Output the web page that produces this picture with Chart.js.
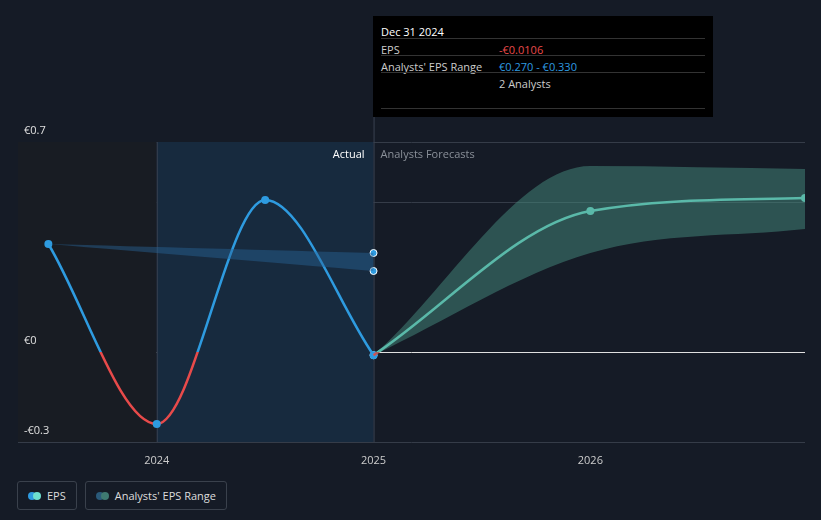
<!DOCTYPE html>
<html><head><meta charset="utf-8">
<script src="https://cdn.jsdelivr.net/npm/chart.js@4"></script>
<style>
body{margin:0;background:#151b26;font-family:"Open Sans",sans-serif;width:821px;height:520px;overflow:hidden;position:relative}
#wrap{position:absolute;left:0;top:0;width:821px;height:470px}
#tip{position:absolute;left:373px;top:16px;width:340px;height:101px;background:#000;color:#ccc;font-size:11px}
#tip .r{position:absolute;left:8px}
#legend{position:absolute;top:481px;left:17px;display:flex;gap:8px;font-size:11px;color:#ddd}
.lg{border:1px solid #3a414c;border-radius:3px;padding:6px 10px;display:flex;align-items:center;gap:6px}
.dot{width:8px;height:8px;border-radius:50%;display:inline-block}
</style></head><body>
<div id="wrap"><canvas id="c"></canvas></div>
<div id="tip">
 <div class="r" style="top:8px;color:#fff">Dec 31 2024</div>
 <div class="r" style="top:26px">EPS</div><div style="position:absolute;left:126px;top:26px;color:#e84a4a">-€0.0106</div>
 <div class="r" style="top:43px">Analysts' EPS Range</div><div style="position:absolute;left:126px;top:43px;color:#2e9be0">€0.270 - €0.330</div>
 <div style="position:absolute;left:126px;top:60px">2 Analysts</div>
 <div style="position:absolute;left:8px;right:8px;top:22px;border-top:1px solid #333"></div>
 <div style="position:absolute;left:8px;right:8px;top:39px;border-top:1px solid #333"></div>
 <div style="position:absolute;left:8px;right:8px;top:56px;border-top:1px solid #333"></div>
 <div style="position:absolute;left:8px;right:8px;top:92px;border-top:1px solid #333"></div>
</div>
<div id="legend">
 <div class="lg"><span class="dot" style="background:#2e9be0;margin-right:-9px"></span><span class="dot" style="background:#6ee0d0"></span> EPS</div>
 <div class="lg"><span class="dot" style="background:#2a5a7a;margin-right:-9px"></span><span class="dot" style="background:#3f7a72"></span> Analysts' EPS Range</div>
</div>
<script>
const pastX = [2023.5, 2024.0, 2024.5, 2025.0];
const pastEps = [0.36, -0.24, 0.507, -0.0106];
const pastRangeLow = [0.36, 0.27];
const pastRangeHigh = [0.36, 0.33];
const pastRangeX = [2023.5, 2025.0];
const fcX = [2025.0, 2026.0, 2026.99];
const fcEps = [-0.0106, 0.47, 0.513];
const fcLow = [-0.0106, 0.33, 0.41];
const fcHigh = [-0.0106, 0.62, 0.61];
const yTicks = [0.7, 0, -0.3];
const yTickLabels = ['€0.7', '€0', '-€0.3'];
const xTicks = [2024, 2025, 2026];

const pts = (xs, ys) => xs.map((x, i) => ({x, y: ys[i]}));

function signGradient(ch, pos, neg) {
  const a = ch.chartArea;
  const y0 = ch.scales.y.getPixelForValue(0);
  const g = ch.ctx.createLinearGradient(0, a.top, 0, a.bottom);
  const s = Math.min(Math.max((y0 - a.top) / (a.bottom - a.top), 0), 1);
  g.addColorStop(0, pos); g.addColorStop(s, pos); g.addColorStop(s, neg); g.addColorStop(1, neg);
  return g;
}

// set line colours once the layout is known
const gradPlugin = {
  id: 'grad',
  afterLayout(ch) {
    ch.data.datasets[4].borderColor = signGradient(ch, '#6ee6d4', '#e84a4a');
    ch.data.datasets[5].borderColor = signGradient(ch, '#2e9be0', '#e84a4a');
  }
};

const bgPlugin = {
  id: 'bg',
  beforeDatasetsDraw(ch) {
    const {ctx, chartArea: a, scales: {x, y}} = ch;
    ctx.save();
    ctx.fillStyle = '#181c23';
    ctx.fillRect(a.left, a.top, x.getPixelForValue(2024) - a.left, a.bottom - a.top);
    ctx.fillStyle = '#172a3e';
    ctx.fillRect(x.getPixelForValue(2024), a.top, x.getPixelForValue(2025) - x.getPixelForValue(2024), a.bottom - a.top);
    ctx.strokeStyle = '#3a4250'; ctx.lineWidth = 1;
    ctx.beginPath(); ctx.moveTo(x.getPixelForValue(2024) + .5, a.top); ctx.lineTo(x.getPixelForValue(2024) + .5, a.bottom); ctx.stroke();
    ctx.beginPath(); ctx.moveTo(x.getPixelForValue(2025) + .5, 16); ctx.lineTo(x.getPixelForValue(2025) + .5, a.bottom); ctx.stroke();
    ctx.fillStyle = '#ffffff'; ctx.font = '11px "Open Sans"'; ctx.textAlign = 'right';
    ctx.fillText('Actual', x.getPixelForValue(2025) - 9, a.top + 16);
    ctx.fillStyle = '#8a9099'; ctx.textAlign = 'left';
    ctx.fillText('Analysts Forecasts', x.getPixelForValue(2025) + 7, a.top + 16);
    ctx.fillStyle = '#e0e0e0'; ctx.textAlign = 'left';
    yTicks.forEach((v, i) => ctx.fillText(yTickLabels[i], 24, y.getPixelForValue(v) - 8));
    ctx.restore();
  }
};

new Chart(document.getElementById('c'), {
  type: 'line',
  data: {datasets: [
    {data: pts(pastRangeX, pastRangeHigh), borderWidth: 0, pointRadius: 0, fill: '+1', backgroundColor: 'rgba(40,100,150,0.45)', tension: 0.3},
    {data: pts(pastRangeX, pastRangeLow), borderWidth: 0, pointRadius: 0, fill: false, tension: 0.3},
    {data: pts(fcX, fcHigh), borderWidth: 0, pointRadius: 0, fill: '+1', backgroundColor: 'rgba(70,140,125,0.5)', cubicInterpolationMode: 'monotone'},
    {data: pts(fcX, fcLow), borderWidth: 0, pointRadius: 0, fill: false, cubicInterpolationMode: 'monotone'},
    {data: pts(fcX, fcEps), borderWidth: 2.5, borderColor: '#6ee6d4', cubicInterpolationMode: 'monotone',
     pointRadius: [0, 4, 4], pointBackgroundColor: '#6ee6d4', pointBorderWidth: 0},
    {data: pts(pastX, pastEps), borderWidth: 2.5, borderColor: '#2e9be0', cubicInterpolationMode: 'monotone',
     pointRadius: 4, pointBackgroundColor: '#2e9be0', pointBorderWidth: 0},
    {data: [{x: 2025, y: 0.33}, {x: 2025, y: 0.27}, {x: 2025, y: -0.0106}], showLine: false, pointRadius: 3.5,
     pointBackgroundColor: '#2e9be0', pointBorderColor: '#fff', pointBorderWidth: 1}
  ]},
  options: {
    responsive: true, maintainAspectRatio: false, animation: false,
    layout: {padding: {top: 142, left: 18, right: 16, bottom: 0}},
    plugins: {legend: {display: false}, tooltip: {enabled: false}},
    scales: {
      x: {type: 'linear', min: 2023.36, max: 2026.99,
          afterFit: s => { s.height = 28; },
          afterBuildTicks: s => { s.ticks = xTicks.map(v => ({value: v})); },
          ticks: {color: '#ccc', font: {size: 11, family: 'Open Sans'}, callback: v => String(v), padding: 4},
          grid: {display: false}, border: {display: false}},
      y: {min: -0.3, max: 0.7, display: true,
          afterBuildTicks: s => { s.ticks = [0.7, 0.5, 0, -0.3].map(v => ({value: v})); },
          afterFit: s => { s.width = 0; },
          ticks: {display: false},
          grid: {color: c => c.tick.value === 0 ? '#e0e0e0' : '#353c48', drawTicks: false},
          border: {display: false}}
    }
  },
  plugins: [gradPlugin, bgPlugin]
});
</script>
</body></html>
